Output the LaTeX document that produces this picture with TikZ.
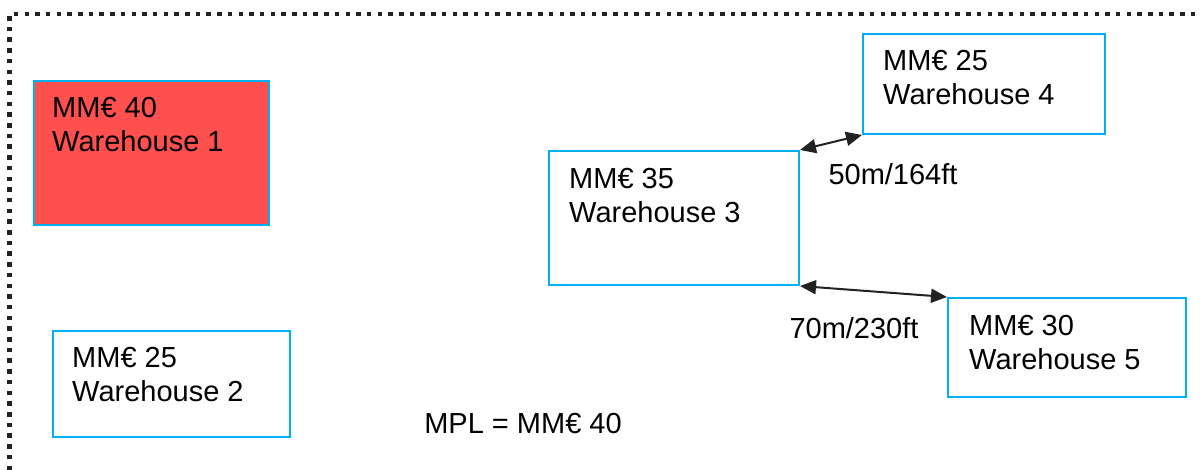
\documentclass[tikz,border=0pt]{standalone}
\usepackage{fontspec}
\setmainfont{Liberation Sans}
\usetikzlibrary{arrows.meta}
\definecolor{boxcyan}{HTML}{00B0F0}
\definecolor{boxred}{HTML}{FF5050}
\definecolor{arrowgray}{HTML}{222222}
\begin{document}
\begin{tikzpicture}[x=1pt,y=-1pt,
  whbox/.style={draw=boxcyan,line width=2pt,anchor=north west,inner sep=0pt},
  whtext/.style={anchor=north west,inner sep=0pt,align=left,font=\fontsize{29}{34}\selectfont},
  lbl/.style={inner sep=0pt,font=\fontsize{29}{34}\selectfont},
  conn/.style={arrowgray,line width=2pt,{Triangle[length=16pt,width=14pt]}-{Triangle[length=16pt,width=14pt]}},
  border/.style={line width=4.5pt,arrowgray,dash pattern=on 4.5pt off 6.2pt}]
\useasboundingbox (0,0) rectangle (1200,470);
\draw[border] (9.7,470) -- (9.7,14) -- (1200,14);
% boxes
\node[whbox,fill=boxred,minimum width=235pt,minimum height=144pt] (w1) at (33,80) {};
\node[whbox,minimum width=237pt,minimum height=106pt] (w2) at (52,330) {};
\node[whbox,minimum width=250pt,minimum height=134pt] (w3) at (548,150) {};
\node[whbox,minimum width=242pt,minimum height=100pt] (w4) at (862,33) {};
\node[whbox,minimum width=238pt,minimum height=99pt] (w5) at (947,297) {};
% texts
\node[whtext] (t1) at (52,97) {MM€ 40\\Warehouse 1};
\node[whtext] (t2) at (72,347) {MM€ 25\\Warehouse 2};
\node[whtext] (t3) at (569,168) {MM€ 35\\Warehouse 3};
\node[whtext] (t4) at (883,50) {MM€ 25\\Warehouse 4};
\node[whtext] (t5) at (969,315) {MM€ 30\\Warehouse 5};
% connectors
\draw[conn] (w3.north east) -- (w4.south west);
\draw[conn] (w3.south east) -- (w5.north west);
\node[lbl] (d1) at (893,174) {50m/164ft};
\node[lbl] (d2) at (854,328) {70m/230ft};
\node[lbl] (mpl) at (523,424) {MPL = MM€ 40};
\end{tikzpicture}
\end{document}
